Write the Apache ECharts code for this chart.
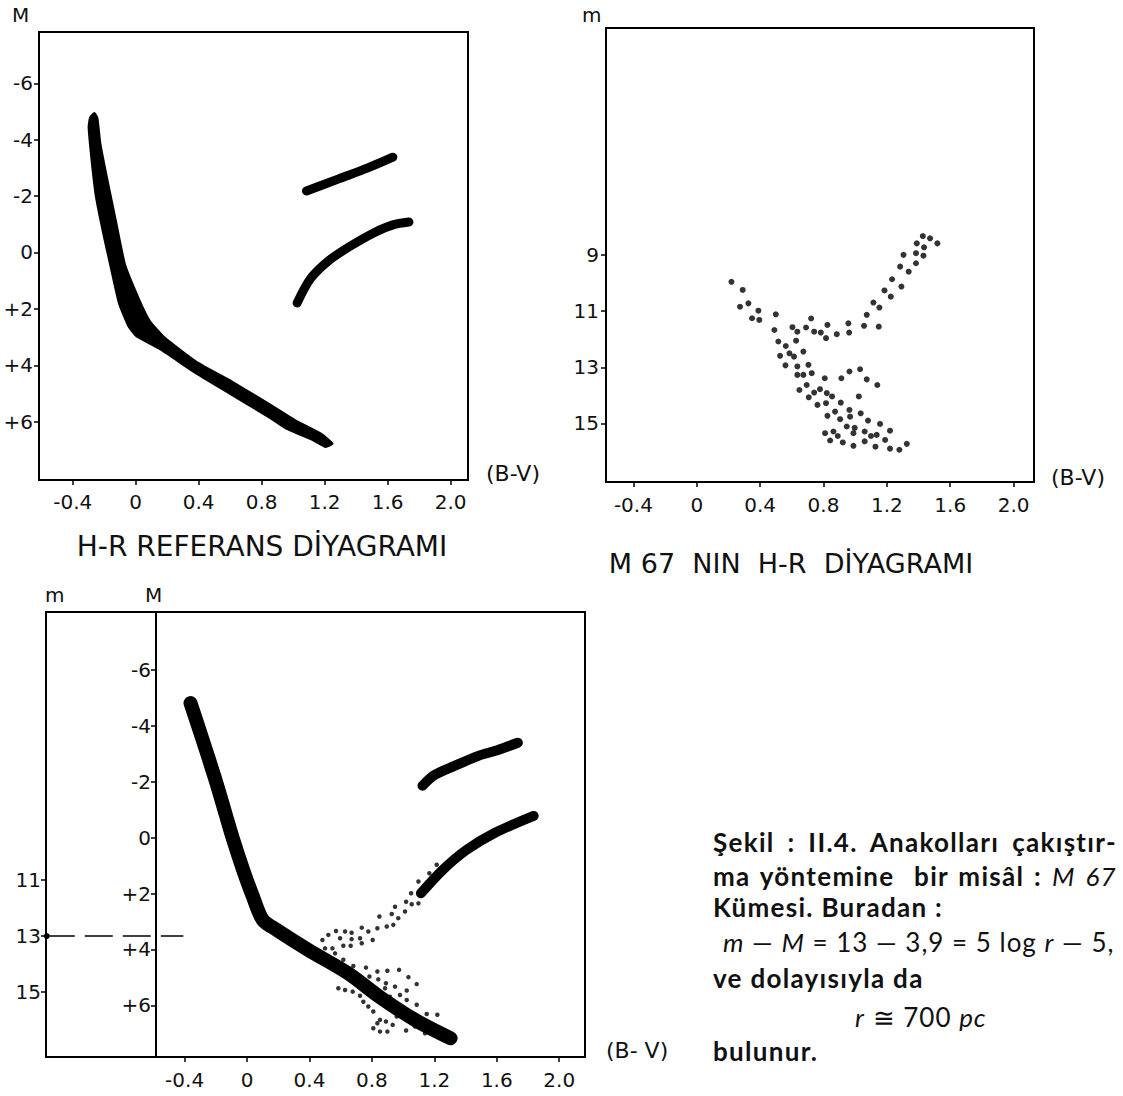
<!DOCTYPE html>
<html>
<head>
<meta charset="utf-8">
<title>Şekil II.4 - Anakolları çakıştırma</title>
<script src="https://cdn.jsdelivr.net/npm/echarts@6.0.0/dist/echarts.min.js"></script>
<style>
  html, body { margin: 0; padding: 0; background: #fff; }
  #wrap { position: relative; width: 1123px; height: 1096px; }
  #chart { width: 1123px; height: 1096px; }
  .cap {
    position: absolute; left: 713px; height: 30px; line-height: 30px;
    font-family: Lato, "Open Sans", sans-serif; font-size: 26px; font-weight: bold;
    letter-spacing: 1.3px; color: #111; white-space: nowrap;
  }
  .cap.just { width: 404px; white-space: normal; text-align: justify; text-align-last: justify; }
  .cap.plain { font-weight: normal; letter-spacing: 1px; }
  .cap i { font-weight: normal; }
</style>
</head>
<body>
<div id="wrap">
  <div id="chart"></div>
  <div class="cap just" style="top:827px">Şekil : II.4. Anakolları çakıştır-</div>
  <div class="cap just" style="top:861px">ma yöntemine&nbsp; bir misâl : <i>M</i>&nbsp;<i>67</i></div>
  <div class="cap" style="top:892px">Kümesi. Buradan :</div>
  <div class="cap plain" style="top:927px; left:723px"><i>m</i> — <i>M</i> = 13 — 3,9 = 5 log <i>r</i> — 5,</div>
  <div class="cap" style="top:963px">ve dolayısıyla da</div>
  <div class="cap plain" style="top:1002px; left:855px"><i>r</i> ≅ 700 <i>pc</i></div>
  <div class="cap" style="top:1036px">bulunur.</div>
</div>
<script>
// tick values
const bvTicks = [-0.4, 0, 0.4, 0.8, 1.2, 1.6, 2.0];
const absMagTicks = [-6, -4, -2, 0, 2, 4, 6];
const m67MagTicks = [9, 11, 13, 15];
const fitMagTicks = [11, 13, 15];

// H-R referans diyagramı: anakol bandının çevresi [B-V, M]
const refMainSeq = [
  [-0.262, -4.95], [-0.290, -4.78], [-0.299, -4.45], [-0.280, -3.26], [-0.253, -1.99],
  [-0.208, -0.72], [-0.158, 0.54], [-0.106, 1.81], [-0.048, 2.60], [0.000, 2.95],
  [0.159, 3.45], [0.386, 4.30], [0.612, 5.06], [0.839, 5.82], [0.952, 6.24],
  [1.111, 6.62], [1.205, 6.90], [1.250, 6.78], [1.179, 6.43], [1.020, 5.97],
  [0.839, 5.34], [0.612, 4.58], [0.386, 3.88], [0.182, 3.01], [0.091, 2.44],
  [0.023, 1.68], [-0.068, 0.42], [-0.125, -1.10], [-0.181, -2.62], [-0.225, -3.89],
  [-0.243, -4.77]
];
const refGiantUpper = [[1.084, -2.18], [1.293, -2.62], [1.474, -3.00], [1.633, -3.38]];
const refGiantLower = [
  [1.025, 1.79], [1.111, 0.92], [1.225, 0.29], [1.361, -0.22],
  [1.520, -0.72], [1.633, -0.98], [1.735, -1.08]
];

// M 67 yıldızları [B-V, m]
const m67Stars = [
  [1.427, 8.32], [1.473, 8.40], [1.519, 8.58], [1.389, 8.58], [1.435, 8.72],
  [1.384, 8.93], [1.305, 8.99], [1.431, 9.02], [1.384, 9.29], [1.284, 9.41],
  [1.338, 9.59], [1.233, 9.86], [1.292, 10.12], [1.185, 10.26], [1.225, 10.48],
  [1.115, 10.69], [1.153, 10.87], [1.073, 11.13], [1.056, 11.52], [1.149, 11.55],
  [0.957, 11.43], [0.962, 11.76], [0.884, 11.82], [0.825, 11.49], [0.816, 11.96],
  [0.783, 11.76], [0.741, 11.73], [0.722, 11.26], [0.690, 11.58], [0.635, 11.73],
  [0.604, 11.57], [0.499, 11.11], [0.490, 11.67], [0.515, 12.08], [0.562, 12.24],
  [0.526, 12.59], [0.627, 12.05], [0.673, 12.44], [0.614, 12.62], [0.585, 12.50],
  [0.560, 12.93], [0.635, 12.97], [0.705, 12.91], [0.673, 13.27], [0.635, 13.27],
  [0.726, 13.21], [0.648, 13.81], [0.694, 13.63], [0.707, 14.07], [0.741, 13.90],
  [0.778, 13.78], [0.821, 13.92], [0.762, 14.34], [0.816, 14.28], [0.854, 14.04],
  [0.808, 13.39], [0.913, 13.39], [0.964, 13.15], [1.031, 13.07], [1.073, 13.43],
  [1.140, 13.63], [0.909, 14.26], [1.023, 14.04], [0.825, 14.73], [0.873, 14.58],
  [0.905, 14.85], [0.964, 14.52], [0.968, 14.76], [1.035, 14.64], [0.947, 15.11],
  [0.997, 15.16], [1.081, 14.90], [1.157, 15.02], [1.220, 15.26], [0.810, 15.35],
  [0.863, 15.29], [0.890, 15.45], [0.842, 15.61], [0.922, 15.68], [0.989, 15.35],
  [1.060, 15.29], [1.100, 15.45], [1.136, 15.41], [1.189, 15.59], [0.989, 15.80],
  [1.060, 15.64], [1.128, 15.83], [1.220, 15.90], [1.279, 15.94], [1.326, 15.73],
  [0.219, 9.95], [0.290, 10.24], [0.326, 10.72], [0.273, 10.84], [0.349, 11.25],
  [0.389, 10.98], [0.395, 11.31]
];

// çakıştırma: anakol ve dev kolları orta çizgileri [B-V, M]
const fitMainSeq = [
  [-0.362, -4.82], [-0.291, -3.62], [-0.202, -2.07], [-0.139, -0.88], [-0.088, 0.08],
  [-0.025, 1.15], [0.038, 2.11], [0.101, 2.94], [0.190, 3.30], [0.393, 4.02],
  [0.646, 4.85], [0.848, 5.69], [1.076, 6.52], [1.304, 7.18]
];
const fitGiantUpper = [[1.124, -1.86], [1.203, -2.25], [1.329, -2.57], [1.482, -2.93], [1.608, -3.14], [1.735, -3.40]];
const fitGiantLower = [[1.114, 1.99], [1.254, 1.15], [1.405, 0.44], [1.583, -0.16], [1.836, -0.78]];

// çakıştırılmış M 67 yıldızları [B-V, M]
const fitStars = [
  [1.215, 0.97], [1.168, 1.27], [1.098, 1.57], [1.051, 1.99], [1.019, 2.29],
  [1.055, 2.38], [1.098, 2.35], [0.948, 2.47], [0.927, 2.73], [0.969, 2.88],
  [1.012, 2.64], [0.848, 2.82], [0.835, 3.24], [0.895, 3.18], [0.937, 3.12],
  [0.735, 3.22], [0.777, 3.36], [0.805, 3.66], [0.724, 3.60], [0.670, 3.40],
  [0.628, 3.36], [0.570, 3.34], [0.670, 3.63], [0.596, 3.60], [0.483, 3.66],
  [0.521, 3.48], [0.547, 3.96], [0.500, 3.96], [0.617, 3.87], [0.664, 3.87],
  [0.735, 3.78], [0.564, 4.14], [0.617, 4.37], [0.681, 4.59], [0.762, 4.65],
  [0.835, 4.79], [0.899, 4.76], [0.974, 4.73], [1.034, 4.99], [1.087, 5.24],
  [0.784, 4.97], [0.841, 5.07], [0.890, 5.21], [0.948, 5.33], [1.023, 5.47],
  [1.087, 5.98], [1.023, 5.81], [0.980, 5.63], [0.916, 5.69], [0.884, 5.39],
  [0.585, 5.39], [0.628, 5.45], [0.677, 5.51], [0.724, 5.66], [0.745, 5.87],
  [0.777, 6.04], [0.809, 6.22], [0.852, 6.52], [0.890, 6.58], [0.933, 6.70],
  [0.835, 6.64], [0.809, 6.82], [0.852, 6.94], [0.899, 6.94], [0.959, 6.40],
  [1.019, 6.52], [1.076, 6.76], [1.019, 6.90], [1.151, 6.31], [1.219, 6.34],
  [1.162, 6.70], [1.140, 7.00]
];

// kesikli çizgi: m = 13
const fitDashMag = 13;
const fitDashBV = [-1.283, -0.408];

const chart = echarts.init(document.getElementById('chart'), null, { renderer: 'svg' });

const ink = '#111';
const axisFont = '"DejaVu Sans", sans-serif';

function bvLabel(v) {
  return v === 0 ? '0' : v.toFixed(1);
}
function magLabel(v) {
  return v > 0 ? '+' + v : String(v);
}

function xAxisCfg(grid, min, max, show, margin) {
  return {
    type: 'value', gridIndex: grid, min: min, max: max, show: show,
    axisLine: { show: true, onZero: false, lineStyle: { color: '#000', width: 2 } },
    axisTick: { show: true, customValues: bvTicks, length: 5, lineStyle: { color: '#000', width: 1.5 } },
    axisLabel: {
      customValues: bvTicks, formatter: bvLabel, margin: margin,
      fontSize: 20, fontFamily: axisFont, color: ink
    },
    splitLine: { show: false }
  };
}
function yAxisCfg(grid, min, max, ticks, fmt, margin) {
  return {
    type: 'value', gridIndex: grid, min: min, max: max, inverse: true,
    axisLine: { show: true, onZero: false, lineStyle: { color: '#000', width: 2 } },
    axisTick: { show: true, customValues: ticks, length: 5, lineStyle: { color: '#000', width: 1.5 } },
    axisLabel: {
      customValues: ticks, formatter: fmt, margin: margin,
      fontSize: 20, fontFamily: axisFont, color: ink
    },
    splitLine: { show: false }
  };
}

function bandLine(data, xi, yi, width) {
  return {
    type: 'line', xAxisIndex: xi, yAxisIndex: yi, data: data,
    symbol: 'none', smooth: 0.3, silent: true, z: 3,
    lineStyle: { color: '#000', width: width, cap: 'round', join: 'round' }
  };
}

function txt(x, y, text, opts) {
  return {
    type: 'text', x: x, y: y, silent: true,
    style: Object.assign({
      text: text, fill: ink, fontSize: 20, fontFamily: axisFont,
      align: 'left', verticalAlign: 'middle'
    }, opts || {})
  };
}

const option = {
  animation: false,
  backgroundColor: '#fff',
  grid: [
    { left: 39, top: 32, width: 429, height: 448, show: true, borderColor: '#000', borderWidth: 2, outerBoundsMode: 'none' },
    { left: 606, top: 28, width: 428, height: 454, show: true, borderColor: '#000', borderWidth: 2, outerBoundsMode: 'none' },
    { left: 46, top: 612, width: 539, height: 445, show: true, borderColor: '#000', borderWidth: 2, outerBoundsMode: 'none' },
    { left: 156, top: 612, width: 429, height: 445, outerBoundsMode: 'none' }
  ],
  xAxis: [
    xAxisCfg(0, -0.614, 2.110, true, 12),
    xAxisCfg(1, -0.573, 2.129, true, 13),
    xAxisCfg(2, -1.288, 2.165, true, 13),
    xAxisCfg(3, -0.583, 2.165, false, 13)
  ],
  yAxis: [
    yAxisCfg(0, -7.82, 8.07, absMagTicks, magLabel, 6),
    yAxisCfg(1, 0.90, 17.09, m67MagTicks, String, 7),
    yAxisCfg(2, 1.40, 17.33, fitMagTicks, String, 5),
    yAxisCfg(3, -8.08, 7.85, absMagTicks, magLabel, 5)
  ],
  series: [
    {
      type: 'custom', xAxisIndex: 0, yAxisIndex: 0, data: refMainSeq, silent: true, z: 3,
      renderItem: function (params, api) {
        if (params.dataIndex !== 0) return null;
        const pts = refMainSeq.map(function (p) { return api.coord(p); });
        return { type: 'polygon', shape: { points: pts, smooth: 0.15 }, style: { fill: '#000', stroke: '#000', lineWidth: 2, lineJoin: 'round' } };
      }
    },
    bandLine(refGiantUpper, 0, 0, 9),
    bandLine(refGiantLower, 0, 0, 9),
    {
      type: 'scatter', xAxisIndex: 1, yAxisIndex: 1, data: m67Stars,
      symbolSize: 6, itemStyle: { color: '#000' }, silent: true
    },
    bandLine(fitMainSeq, 3, 3, 14),
    bandLine(fitGiantUpper, 3, 3, 10),
    bandLine(fitGiantLower, 3, 3, 10),
    {
      type: 'scatter', xAxisIndex: 3, yAxisIndex: 3, data: fitStars,
      symbolSize: 4.5, itemStyle: { color: '#000' }, silent: true
    },
    {
      type: 'line', xAxisIndex: 2, yAxisIndex: 2, silent: true,
      data: [
        { value: [fitDashBV[0], fitDashMag], symbol: 'circle', symbolSize: 6 },
        { value: [fitDashBV[1], fitDashMag], symbol: 'none' }
      ],
      itemStyle: { color: '#000' },
      lineStyle: { color: '#000', width: 1.5, type: [28, 10] }
    }
  ],
  graphic: [
    txt(12, 15, 'M'),
    txt(582, 15, 'm'),
    txt(45, 595, 'm'),
    txt(145, 595, 'M'),
    txt(486, 473, '(B-V)', { fontSize: 22 }),
    txt(1051, 477, '(B-V)', { fontSize: 22 }),
    txt(606, 1050, '(B- V)', { fontSize: 22 }),
    txt(262, 546, 'H-R REFERANS DİYAGRAMI', { fontSize: 28, align: 'center' }),
    txt(791, 563, 'M 67  NIN  H-R  DİYAGRAMI', { fontSize: 27, align: 'center' })
  ]
};

chart.setOption(option);
</script>
</body>
</html>
